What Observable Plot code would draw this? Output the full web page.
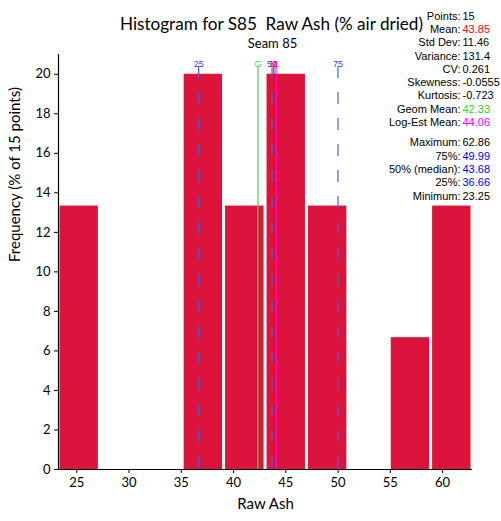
<!DOCTYPE html>
<html><head><meta charset="utf-8">
<script src="https://cdn.jsdelivr.net/npm/d3@7"></script>
<script src="https://cdn.jsdelivr.net/npm/@observablehq/plot@0.6"></script>
<style>body{margin:0;background:#fff}</style>
</head><body><div id="chart"></div>
<script>
// ---- data ----
const binStart = [23.25, 27.21, 31.17, 35.13, 39.09, 43.06, 47.02, 50.98, 54.94, 58.90];
const binEnd   = [27.21, 31.17, 35.13, 39.09, 43.06, 47.02, 50.98, 54.94, 58.90, 62.86];
const freq     = [13.33, 0, 0, 20, 13.33, 20, 13.33, 0, 6.67, 13.33];
const xTicks = [25, 30, 35, 40, 45, 50, 55, 60];
const yTicks = [0, 2, 4, 6, 8, 10, 12, 14, 16, 18, 20];
const markerNames  = ["25", "G", "50", "M", "L", "75"];
const markerValues = [36.66, 42.33, 43.68, 43.85, 44.06, 49.99];
const markerColors = ["#4a5fd8", "#55cc55", "#4a5fd8", "#ff0000", "#ff00ff", "#4a5fd8"];
const markerLabelColors = ["#3a3aff", "#55cc55", "#3a3aff", "#ff0000", "#ff00ff", "#3a3aff"];
const markerDashed = [true, false, true, false, false, true];
const statLabels = ["Points:", "Mean:", "Std Dev:", "Variance:", "CV:", "Skewness:", "Kurtosis:", "Geom Mean:", "Log-Est Mean:", "Maximum:", "75%:", "50% (median):", "25%:", "Minimum:"];
const statValues = ["15", "43.85", "11.46", "131.4", "0.261", "-0.0555", "-0.723", "42.33", "44.06", "62.86", "49.99", "43.68", "36.66", "23.25"];
const statColors = ["#000", "#ff0000", "#000", "#000", "#000", "#000", "#000", "#33cc33", "#ff00ff", "#000", "#0000ff", "#0000ff", "#0000ff", "#000"];

const bins = binStart.map((s, i) => ({x1: s, x2: binEnd[i], y: freq[i]}));
const markers = markerNames.map((n, i) => ({name: n, v: markerValues[i], c: markerColors[i], lc: markerLabelColors[i], dashed: markerDashed[i]}));
const stats = statLabels.map((l, i) => ({label: l, value: statValues[i], color: statColors[i], off: (i < 9 ? 11.3 + 13.3 * i : 138 + 13.3 * (i - 9)) - 54}));

const font = "Lato, 'Open Sans', sans-serif";
const sfont = "'Liberation Sans', Arial, sans-serif";

const chart = Plot.plot({
  width: 501, height: 521,
  marginLeft: 58, marginRight: 29, marginTop: 54, marginBottom: 52,
  style: {fontFamily: font, fontSize: "12px", background: "#fff", color: "#000"},
  x: {domain: [23.25, 62.86], label: null},
  y: {domain: [0, 21], label: null},
  marks: [
    Plot.rectY(bins, {x1: "x1", x2: "x2", y: "y", fill: "#dc143c", insetLeft: 1.5, insetRight: 1.5}),
    ...markers.map(m => Plot.ruleX([m.v], {stroke: m.c, strokeWidth: 1.2, insetTop: 12, strokeDasharray: m.dashed ? "12,14" : null})),
    ...markers.map(m => Plot.text([m.v], {x: d => d, text: () => m.name, frameAnchor: "top", dy: 6, fill: m.lc, fontSize: 9, fontFamily: sfont})),
    Plot.axisX({ticks: xTicks, tickSize: 4, tickPadding: 4, fontSize: 13, label: null}),
    Plot.axisY({ticks: yTicks, tickSize: 4, tickPadding: 4, fontSize: 13, label: null}),
    Plot.ruleY([0], {stroke: "#000", strokeWidth: 1.2}),
    Plot.ruleX([23.25], {stroke: "#000", strokeWidth: 1.2}),
    Plot.text(["Histogram for S85  Raw Ash (% air dried)"], {frameAnchor: "top", dy: -37, dx: 6, fontSize: 17.1, fontFamily: font}),
    Plot.text(["Seam 85"], {frameAnchor: "top", dy: -16, dx: 7, fontSize: 13, fontFamily: font}),
    Plot.text(["Raw Ash"], {frameAnchor: "bottom", dy: 39, fontSize: 15, fontFamily: font}),
    Plot.text(["Frequency (% of 15 points)"], {frameAnchor: "left", dx: -43, rotate: -90, fontSize: 15, fontFamily: font}),
    ...stats.map(s => Plot.text([s.label], {frameAnchor: "top-right", dx: -12, dy: s.off, textAnchor: "end", fontSize: 11, fontFamily: sfont, fill: "#000"})),
    ...stats.map(s => Plot.text([s.value], {frameAnchor: "top-right", dx: -10, dy: s.off, textAnchor: "start", fontSize: 11, fontFamily: sfont, fill: s.color}))
  ]
});
document.getElementById("chart").appendChild(chart);
</script></body></html>
